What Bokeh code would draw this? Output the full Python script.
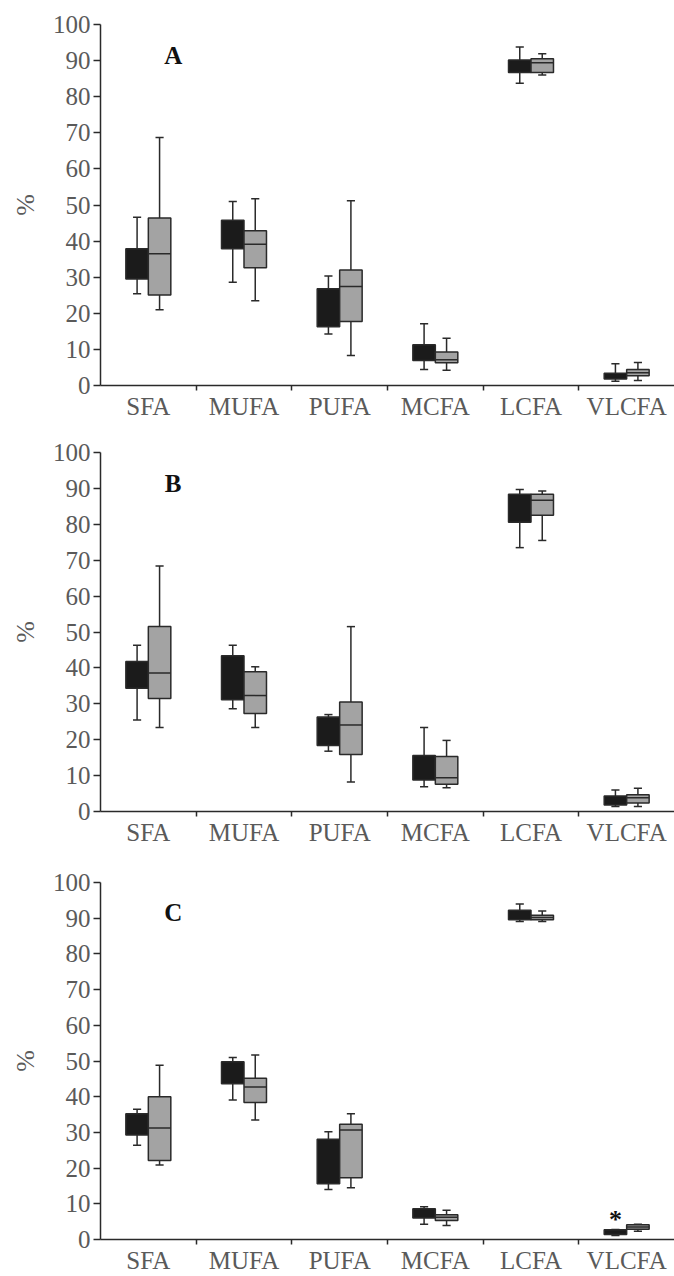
from bokeh.plotting import figure
from bokeh.layouts import column
from bokeh.models import Range1d, FixedTicker
from bokeh.core.properties import value
from bokeh.embed import file_html
from bokeh.resources import INLINE

categories = ["SFA", "MUFA", "PUFA", "MCFA", "LCFA", "VLCFA"]
y_ticks = [0, 10, 20, 30, 40, 50, 60, 70, 80, 90, 100]

# Panel A  (black group: whisker low, Q1, Q3, whisker high ; gray group adds median)
a_black_lo = [25.4, 28.6, 14.3, 4.4, 83.7, 1.2]
a_black_q1 = [29.5, 37.9, 16.3, 6.9, 86.7, 1.8]
a_black_q3 = [37.9, 45.8, 26.8, 11.3, 90.2, 3.4]
a_black_hi = [46.6, 51.0, 30.3, 17.1, 93.8, 6.0]
a_gray_lo = [21.0, 23.5, 8.3, 4.2, 86.0, 1.4]
a_gray_q1 = [25.1, 32.6, 17.7, 6.3, 86.7, 2.7]
a_gray_med = [36.5, 39.1, 27.4, 7.1, 89.4, 3.5]
a_gray_q3 = [46.4, 42.9, 32.0, 9.3, 90.5, 4.4]
a_gray_hi = [68.7, 51.7, 51.2, 13.1, 91.9, 6.4]

# Panel B
b_black_lo = [25.5, 28.6, 16.8, 6.9, 73.5, 1.4]
b_black_q1 = [34.3, 31.1, 18.4, 8.8, 80.6, 1.8]
b_black_q3 = [41.8, 43.4, 26.3, 15.6, 88.4, 4.3]
b_black_hi = [46.3, 46.3, 27.0, 23.4, 89.7, 6.0]
b_gray_lo = [23.4, 23.4, 8.2, 6.6, 75.5, 1.4]
b_gray_q1 = [31.5, 27.3, 15.9, 7.6, 82.5, 2.4]
b_gray_med = [38.6, 32.3, 24.1, 9.4, 86.7, 3.8]
b_gray_q3 = [51.5, 38.9, 30.5, 15.3, 88.4, 4.7]
b_gray_hi = [68.4, 40.3, 51.5, 19.8, 89.3, 6.5]

# Panel C
c_black_lo = [26.4, 39.1, 14.0, 4.3, 89.1, 1.1]
c_black_q1 = [29.3, 43.6, 15.6, 6.0, 89.6, 1.4]
c_black_q3 = [35.2, 49.8, 28.1, 8.6, 92.2, 2.7]
c_black_hi = [36.5, 51.0, 30.2, 9.2, 94.0, 2.8]
c_gray_lo = [20.9, 33.5, 14.5, 3.9, 89.1, 2.3]
c_gray_q1 = [22.1, 38.4, 17.3, 5.3, 89.6, 2.9]
c_gray_med = [31.2, 42.7, 30.7, 6.2, 90.2, 3.5]
c_gray_q3 = [40.0, 45.2, 32.3, 6.9, 90.8, 4.1]
c_gray_hi = [48.8, 51.7, 35.2, 8.2, 92.0, 4.3]

# significance marker (panel C, VLCFA black group)
c_star_category = "VLCFA"
c_star_y = 5.7

FONT = "Liberation Serif"
LABEL_COLOR = "#5a5a5a"
LINE = "#2a2a2a"
BLACK_FILL = "#1b1b1b"
GRAY_FILL = "#a3a3a3"
BOX_W = 0.235
CAP_W = 0.085


def make_panel(letter, black, gray, top, bottom, height, star=False):
    p = figure(width=674, height=height, output_backend="svg", toolbar_location=None,
               x_range=Range1d(0, 6), y_range=Range1d(0, 100),
               min_border_left=100, min_border_right=0, min_border_top=top,
               min_border_bottom=bottom)
    p.outline_line_color = None
    p.xgrid.visible = False
    p.ygrid.visible = False
    p.background_fill_color = "white"

    n = len(categories)
    for data, offs, fill in ((black, -BOX_W / 2, BLACK_FILL),
                             (gray, BOX_W / 2, GRAY_FILL)):
        xs = [i + 0.5 + offs for i in range(n)]
        lo, q1, q3, hi = data["lo"], data["q1"], data["q3"], data["hi"]
        p.segment(x0=xs, y0=lo, x1=xs, y1=hi, line_color=LINE, line_width=1.5)
        p.segment(x0=[x - CAP_W / 2 for x in xs], y0=lo, x1=[x + CAP_W / 2 for x in xs], y1=lo,
                  line_color=LINE, line_width=1.5)
        p.segment(x0=[x - CAP_W / 2 for x in xs], y0=hi, x1=[x + CAP_W / 2 for x in xs], y1=hi,
                  line_color=LINE, line_width=1.5)
        p.vbar(x=xs, width=BOX_W, bottom=q1, top=q3, fill_color=fill,
               line_color=LINE, line_width=1.5)
        if "med" in data:
            p.segment(x0=[x - BOX_W / 2 for x in xs], y0=data["med"],
                      x1=[x + BOX_W / 2 for x in xs], y1=data["med"],
                      line_color=LINE, line_width=1.5)

    p.text(x=[0.76], y=[91.5], text=[letter], text_font=value(FONT), text_font_style="bold",
           text_font_size="25px", text_color="#111111", text_align="center",
           text_baseline="middle")
    if star:
        i = categories.index(c_star_category)
        p.text(x=[i + 0.5 - BOX_W / 2], y=[c_star_y], text=["*"], text_font=value(FONT),
               text_font_style="bold", text_font_size="26px", text_color="#111111",
               text_align="center", text_baseline="middle")

    # x axis: labels at centres, tick marks at boundaries
    xa = p.xaxis[0]
    xa.ticker = FixedTicker(ticks=[i + 0.5 for i in range(n)], minor_ticks=list(range(1, n)))
    xa.major_label_overrides = {i + 0.5: c for i, c in enumerate(categories)}
    xa.major_tick_line_color = None
    xa.major_tick_out = 0
    xa.major_tick_in = 0
    xa.minor_tick_line_color = LINE
    xa.minor_tick_line_width = 1.5
    xa.minor_tick_out = 5
    xa.minor_tick_in = 0
    xa.axis_line_color = LINE
    xa.axis_line_width = 1.5
    xa.major_label_text_font = FONT
    xa.major_label_text_font_size = "25px"
    xa.major_label_text_color = LABEL_COLOR
    xa.major_label_standoff = 2

    ya = p.yaxis[0]
    ya.ticker = FixedTicker(ticks=y_ticks, minor_ticks=[])
    ya.major_tick_out = 7
    ya.major_tick_in = 0
    ya.major_tick_line_color = LINE
    ya.major_tick_line_width = 1.5
    ya.axis_line_color = LINE
    ya.axis_line_width = 1.5
    ya.major_label_text_font = FONT
    ya.major_label_text_font_size = "25px"
    ya.major_label_text_color = LABEL_COLOR
    ya.major_label_standoff = 3
    ya.axis_label = "%"
    ya.axis_label_text_font = FONT
    ya.axis_label_text_font_style = "normal"
    ya.axis_label_text_font_size = "26px"
    ya.axis_label_text_color = LABEL_COLOR
    ya.axis_label_standoff = 10
    return p


pa = make_panel("A",
                dict(lo=a_black_lo, q1=a_black_q1, q3=a_black_q3, hi=a_black_hi),
                dict(lo=a_gray_lo, q1=a_gray_q1, med=a_gray_med, q3=a_gray_q3, hi=a_gray_hi),
                top=24, bottom=43, height=428)
pb = make_panel("B",
                dict(lo=b_black_lo, q1=b_black_q1, q3=b_black_q3, hi=b_black_hi),
                dict(lo=b_gray_lo, q1=b_gray_q1, med=b_gray_med, q3=b_gray_q3, hi=b_gray_hi),
                top=24, bottom=34, height=420)
pc = make_panel("C",
                dict(lo=c_black_lo, q1=c_black_q1, q3=c_black_q3, hi=c_black_hi),
                dict(lo=c_gray_lo, q1=c_gray_q1, med=c_gray_med, q3=c_gray_q3, hi=c_gray_hi),
                top=34, bottom=34, height=428, star=True)

layout = column(pa, pb, pc)
open("out.html", "w").write(file_html(layout, INLINE))
